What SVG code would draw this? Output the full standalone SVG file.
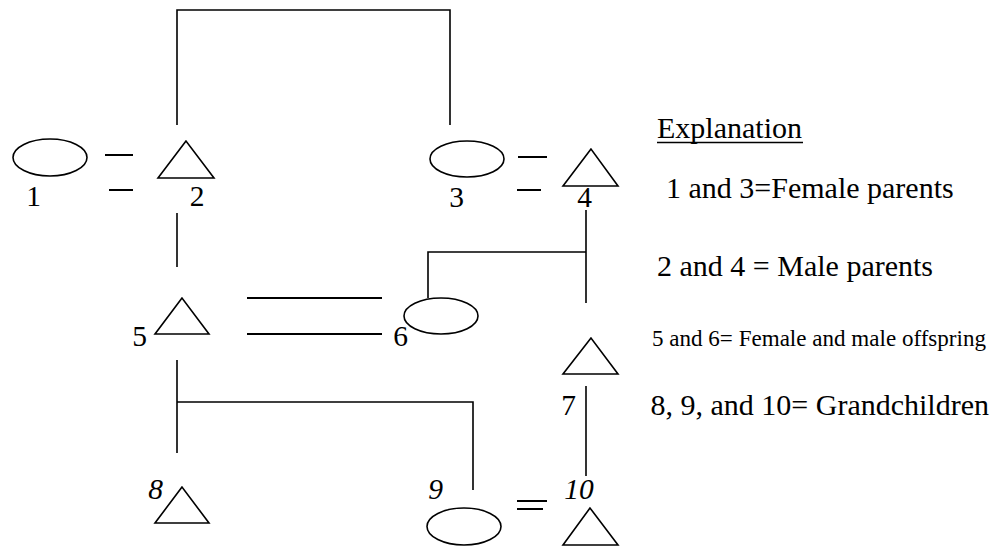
<svg xmlns="http://www.w3.org/2000/svg" width="990" height="546" viewBox="0 0 990 546">
<style>
.shape{fill:none;stroke:#000;stroke-width:1.6}
.line{fill:none;stroke:#000;stroke-width:1.6}
.dbl{fill:none;stroke:#000;stroke-width:2}
.lbl{font-family:"Liberation Serif","Times New Roman",serif;font-size:29.5px;fill:#000;text-anchor:middle}
.it{font-style:italic}
.exp{font-family:"Liberation Serif","Times New Roman",serif;font-size:30px;fill:#000}
.small{font-size:22.5px}
</style>
<rect width="990" height="546" fill="#fff"/>
<g id="connectors">
<path class="line" d="M177,125 V10 H450 V125"/>
<path class="line" d="M177,213 V267"/>
<path class="dbl" d="M247,298 H382 M247,334 H382"/>
<path class="line" d="M586,210 V303 M428,298 V252 H586"/>
<path class="line" d="M177,360 V453 M177,402 H473 V490"/>
<path class="line" d="M586,386 V476"/>
<path class="dbl" d="M105,155 H133 M109,190 H133"/>
<path class="dbl" d="M518,157 H547 M517,190 H541"/>
<path class="dbl" d="M517,501 H547 M517,509 H543"/>
</g>
<g id="node1"><ellipse class="shape" cx="50" cy="157.5" rx="37" ry="18.5"/><text class="lbl" x="33.5" y="206">1</text></g>
<g id="node2"><polygon class="shape" points="186,141 158,178 214,178"/><text class="lbl" x="197" y="206">2</text></g>
<g id="node3"><ellipse class="shape" cx="467" cy="159" rx="37" ry="18"/><text class="lbl" x="456.5" y="207">3</text></g>
<g id="node4"><polygon class="shape" points="591,149 563,186 618,186"/><text class="lbl" x="584.5" y="207">4</text></g>
<g id="node5"><polygon class="shape" points="182,298 155,334 209,334"/><text class="lbl" x="139.5" y="346">5</text></g>
<g id="node6"><ellipse class="shape" cx="441" cy="316" rx="37" ry="18"/><text class="lbl" x="400.5" y="346">6</text></g>
<g id="node7"><polygon class="shape" points="591,338 563,374 618,374"/><text class="lbl" x="568.5" y="415">7</text></g>
<g id="node8"><polygon class="shape" points="182,487 155,523 209,523"/><text class="lbl it" x="155.5" y="499">8</text></g>
<g id="node9"><ellipse class="shape" cx="464" cy="526.5" rx="37" ry="18.5"/><text class="lbl it" x="435.5" y="499">9</text></g>
<g id="node10"><polygon class="shape" points="590,508 563,545 618,545"/><text class="lbl it" x="579" y="499">10</text></g>
<g id="explanation">
<text class="exp" x="657" y="138">Explanation</text>
<line x1="657" y1="142.5" x2="803" y2="142.5" stroke="#000" stroke-width="1.5"/>
<text class="exp" x="666" y="198">1 and 3=Female parents</text>
<text class="exp" x="657" y="276">2 and 4 = Male parents</text>
<text class="exp small" x="652" y="346" textLength="334" lengthAdjust="spacingAndGlyphs">5 and 6= Female and male offspring</text>
<text class="exp" x="650.5" y="415">8, 9, and 10= Grandchildren</text>
</g>
</svg>
